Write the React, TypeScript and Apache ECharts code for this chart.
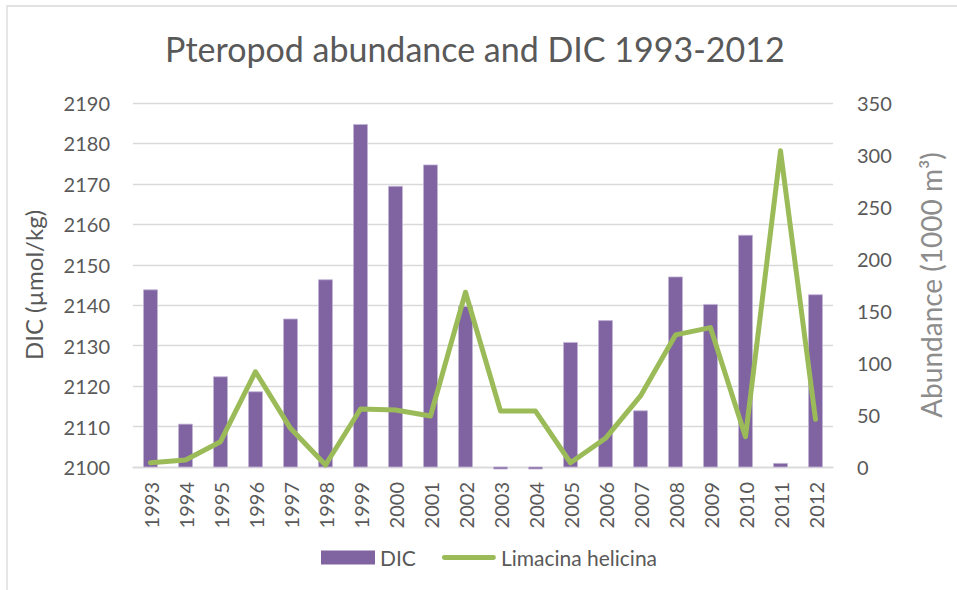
import React, { useEffect, useRef } from "react";
import * as echarts from "echarts";

const YEARS = ["1993","1994","1995","1996","1997","1998","1999","2000","2001","2002","2003","2004","2005","2006","2007","2008","2009","2010","2011","2012"];
const DIC = [2143.8, 2110.6, 2122.3, 2118.6, 2136.6, 2146.3, 2184.7, 2169.4, 2174.7, 2139.7, 2099.5, 2099.5, 2130.8, 2136.2, 2113.9, 2147.0, 2140.2, 2157.3, 2100.9, 2142.6];
const ABUNDANCE = [4.1, 6.7, 24.3, 91.6, 37.2, 1.9, 55.8, 54.8, 49.0, 168.0, 53.8, 53.8, 4.1, 27.6, 68.3, 127.0, 134.0, 29.1, 304.0, 45.9];
const LEFT_TICKS = { min: 2100, max: 2190, interval: 10 };
const RIGHT_TICKS = { min: 0, max: 350, interval: 50 };
const DIC_BASE = 2100;

const FONT = "Lato";
const TXT = "#595959";
const LINE_ICON =
  "path://M0,0L0.01,0L0.01,0.01Z M2.5,4.5L53.5,4.5A2.5,2.5 0 0 1 53.5,9.5L2.5,9.5A2.5,2.5 0 0 1 2.5,4.5Z M0,14L0.01,14L0.01,13.99Z";

export default function App() {
  const ref = useRef<HTMLDivElement>(null);
  useEffect(() => {
    if (!ref.current) return;
    const chart = echarts.init(ref.current, null, { renderer: "svg" });
    chart.setOption({
      animation: false,
      textStyle: { fontFamily: FONT, color: TXT },
      title: {
        text: "Pteropod abundance and DIC 1993-2012",
        left: 160,
        top: 26,
        textStyle: { fontFamily: FONT, fontSize: 34, fontWeight: "normal", color: TXT },
      },
      graphic: [
        {
          type: "rect",
          shape: { x: 7, y: 6, width: 1000, height: 1000 },
          style: { fill: "none", stroke: "#d9d9d9", lineWidth: 1.3 },
          silent: true,
        },
      ],
      legend: {
        left: 316,
        top: 542,
        itemWidth: 54,
        itemHeight: 14,
        itemGap: 26,
        textStyle: { fontFamily: FONT, fontSize: 21, color: TXT },
        data: [
          { name: "DIC", icon: "rect", itemStyle: { color: "#8064A2" } },
          { name: "Limacina helicina", icon: LINE_ICON, itemStyle: { color: "#9BBB59" } },
        ],
      },
      grid: { left: 133, right: 124, top: 103, bottom: 123, containLabel: false },
      xAxis: {
        type: "category",
        data: YEARS,
        axisLine: { lineStyle: { color: "#d9d9d9", width: 1.3 } },
        axisTick: { show: false },
        axisLabel: { rotate: 90, interval: 0, fontSize: 20, color: TXT, margin: 15, fontFamily: FONT },
      },
      yAxis: [
        {
          type: "value",
          min: LEFT_TICKS.min,
          max: LEFT_TICKS.max,
          interval: LEFT_TICKS.interval,
          name: "DIC (µmol/kg)",
          nameLocation: "middle",
          nameRotate: 90,
          nameGap: 88,
          nameTextStyle: { fontSize: 24, color: TXT, fontFamily: FONT },
          axisLine: { show: false },
          axisTick: { show: false },
          axisLabel: { fontSize: 20, color: TXT, margin: 23, fontFamily: FONT, formatter: (v: number) => String(v) },
          splitLine: { lineStyle: { color: "#d9d9d9", width: 1.3 } },
        },
        {
          type: "value",
          min: RIGHT_TICKS.min,
          max: RIGHT_TICKS.max,
          interval: RIGHT_TICKS.interval,
          name: "Abundance (1000 m³)",
          nameLocation: "middle",
          nameRotate: 90,
          nameGap: 84,
          nameTextStyle: { fontSize: 28, color: "#8c8c8c", fontFamily: FONT },
          axisLine: { show: false },
          axisTick: { show: false },
          axisLabel: { fontSize: 20, color: TXT, margin: 24, fontFamily: FONT, formatter: (v: number) => String(v) },
          splitLine: { show: false },
        },
      ],
      series: [
        {
          name: "DIC",
          type: "custom",
          xAxisIndex: 0,
          yAxisIndex: 0,
          itemStyle: { color: "#8064A2" },
          data: DIC.map((v, i) => [i, v]),
          encode: { x: 0, y: 1 },
          z: 2,
          renderItem: (params: any, api: any) => {
            const i = api.value(0);
            const v = api.value(1);
            const top = api.coord([i, v]);
            const base = api.coord([i, DIC_BASE]);
            const w = api.size([1, 0])[0] * 0.4;
            const y0 = Math.min(top[1], base[1]);
            const h = Math.max(Math.abs(base[1] - top[1]), 1.5);
            return {
              type: "rect",
              shape: { x: top[0] - w / 2, y: y0, width: w, height: h },
              style: { fill: "#8064A2", stroke: "#c3b5d6", lineWidth: 0.8 },
            };
          },
        },
        {
          name: "Limacina helicina",
          type: "line",
          yAxisIndex: 1,
          data: ABUNDANCE,
          symbol: "none",
          showSymbol: false,
          color: "#9BBB59",
          lineStyle: { color: "#9BBB59", width: 5, cap: "round", join: "round" },
          z: 3,
        },
      ],
    });
    return () => chart.dispose();
  }, []);
  return (
    <div
      ref={ref}
      style={{ position: "fixed", left: 0, top: 0, width: 957, height: 590, background: "#fff" }}
    />
  );
}
